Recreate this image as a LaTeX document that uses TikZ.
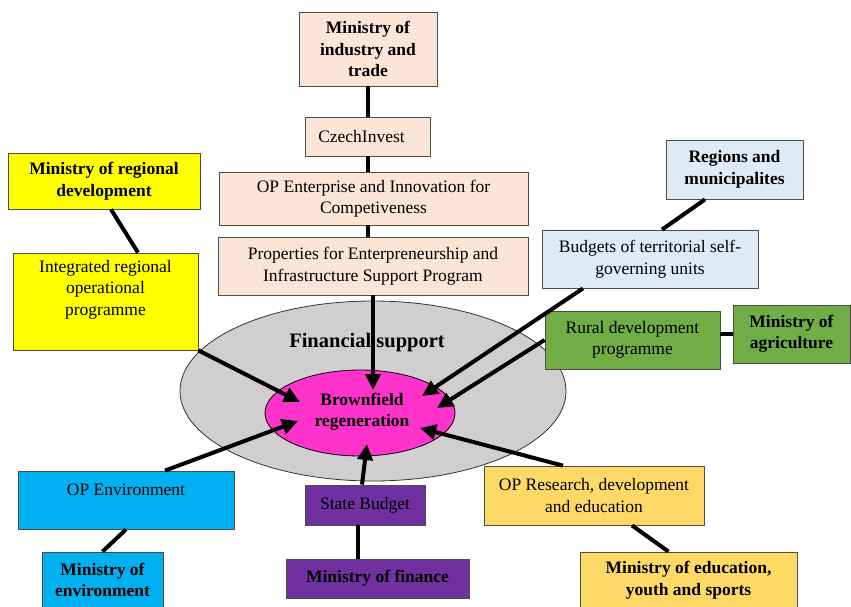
\documentclass[tikz,border=0pt]{standalone}
\usepackage{fontspec}
\setmainfont{Liberation Serif}
\usetikzlibrary{arrows.meta,calc,shapes.geometric,shadows}
\definecolor{peach}{HTML}{FBE5D6}
\definecolor{ryellow}{HTML}{FFFF00}
\definecolor{lblue}{HTML}{DEEBF7}
\definecolor{rgreen}{HTML}{70AD47}
\definecolor{rcyan}{HTML}{00B0F0}
\definecolor{rpurple}{HTML}{7030A0}
\definecolor{rgold}{HTML}{FFD966}
\definecolor{rgrey}{HTML}{D0CECE}
\definecolor{rpink}{HTML}{FF33CC}
\begin{document}
\begin{tikzpicture}[x=1pt,y=-1pt,
  box/.style={rectangle, draw=black!70, line width=0.8pt, align=center, inner sep=0pt,
    font=\fontsize{17.5}{21.5}\selectfont,
    drop shadow={shadow xshift=1pt, shadow yshift=-1pt, fill=black!35, opacity=0.6}},
  bbox/.style={box, font=\fontsize{17.5}{21.5}\selectfont\bfseries},
  link/.style={line width=4pt, black},
  arr/.style={line width=4pt, black, -{Triangle[length=16pt,width=15pt]}}
]
\useasboundingbox (0,0) rectangle (851,606);
% ellipses
\node[ellipse, draw=black!80, line width=0.8pt, fill=rgrey, minimum width=386pt, minimum height=180pt, inner sep=0pt] (fs) at (373,391) {};
\node[font=\fontsize{20.5}{24}\selectfont\bfseries] (fst) at (367,343) {Financial support};
\node[ellipse, draw=black, line width=0.8pt, fill=rpink, minimum width=190pt, minimum height=86pt, inner sep=0pt] (bfe) at (360,413) {};
\node[align=center, font=\fontsize{17.5}{21.5}\selectfont\bfseries] (bf) at (362,412) {Brownfield\\regeneration};
% boxes
\node[bbox, fill=peach, minimum width=138pt, minimum height=74pt] (mit) at (368,49) {Ministry of\\industry and\\trade};
\node[box, fill=peach, minimum width=125pt, minimum height=39pt] (ci) at (367.5,136.5) {CzechInvest\hspace{12pt}};
\node[box, fill=peach, minimum width=309pt, minimum height=53pt] (ope) at (373.5,198.5) {OP Enterprise and Innovation for\\Competiveness};
\node[box, fill=peach, minimum width=310pt, minimum height=58pt] (prop) at (373,266) {Properties for Enterpreneurship and\\Infrastructure Support Program};
\node[bbox, fill=ryellow, minimum width=192pt, minimum height=56pt] (mrd) at (104,181) {Ministry of regional\\development};
\node[box, fill=ryellow, minimum width=185pt, minimum height=97pt] (irop) at (105.5,301.5) {Integrated regional\\operational\\programme\\[6pt]};
\node[bbox, fill=lblue, minimum width=137pt, minimum height=59pt] (reg) at (734.5,169.5) {Regions and\\municipalites};
\node[box, fill=lblue, minimum width=216pt, minimum height=58pt] (bud) at (650,259) {Budgets of territorial self-\\governing units};
\node[box, fill=rgreen, minimum width=175pt, minimum height=58pt] (rdp) at (632.5,340) {Rural development\\programme};
\node[bbox, fill=rgreen, minimum width=117pt, minimum height=58pt] (mag) at (791.5,334) {Ministry of\\agriculture};
\node[box, fill=rcyan, minimum width=216pt, minimum height=58pt] (openv) at (126,500) {OP Environment\\\mbox{}};
\node[bbox, fill=rcyan, minimum width=121pt, minimum height=56pt] (moe) at (102.5,580) {Ministry of\\environment};
\node[box, fill=rpurple, minimum width=120pt, minimum height=40pt] (sb) at (365,505) {State Budget};
\node[bbox, fill=rpurple, minimum width=183pt, minimum height=39pt] (mof) at (377.5,578.5) {Ministry of finance};
\node[box, fill=rgold, minimum width=220pt, minimum height=59pt] (opr) at (594,495.5) {OP Research, development\\and education};
\node[bbox, fill=rgold, minimum width=217pt, minimum height=56pt] (med) at (688.5,580) {Ministry of education,\\youth and sports};
% tips
\coordinate (tprop) at (373,390);
\coordinate (tirop) at (300,402);
\coordinate (tbud) at (422,396);
\coordinate (trdp) at (437,408);
\coordinate (topenv) at (298,421);
\coordinate (tsb) at (367,444);
\coordinate (topr) at (420,428);
\coordinate (sbl) at ($(sb.south)+(-7,0)$);
% links
\draw[link] (mit.south) -- (mit.south |- ci.north);
\draw[link] (mit.south |- ci.south) -- (mit.south |- ope.north);
\draw[link] (mit.south |- ope.south) -- (mit.south |- prop.north);
\draw[link] ($(mrd.south)+(7,0)$) -- ($(irop.north)+(32.5,0)$);
\draw[link] ($(reg.south)+(-29.5,0)$) -- ($(bud.north)+(12,0)$);
\draw[link] (mag.west -| rdp.east) -- (mag.west);
\draw[link] (openv.south) -- (moe.north);
\draw[link] (sbl) -- (sbl |- mof.north);
\draw[link] ($(opr.south)+(38,0)$) -- ($(med.north)+(-20,0)$);
% arrows
\draw[arr] (prop.south) -- (tprop);
\draw[arr] (irop.south east) -- (tirop);
\draw[arr] ($(bud.south)+(-67,0)$) -- (tbud);
\draw[arr] (rdp.west) -- (trdp);
\draw[arr] ($(openv.north)+(39,0)$) -- (topenv);
\draw[arr] ($(sb.north)+(-3,0)$) -- (tsb);
\draw[arr] ($(opr.north)+(-31,0)$) -- (topr);
\end{tikzpicture}
\end{document}
